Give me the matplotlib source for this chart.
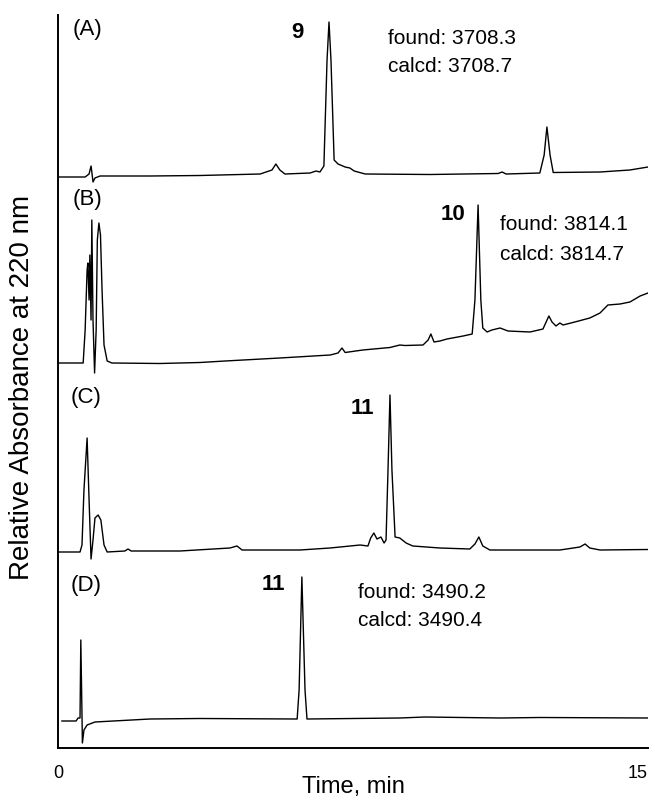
import numpy as np
import matplotlib
matplotlib.use("Agg")
import matplotlib.pyplot as plt

plt.rcParams['font.family'] = ['Liberation Sans', 'DejaVu Sans']

# traces: time (min) and height above each panel's baseline
time_a = [0.00, 0.69, 0.79, 0.84, 0.86, 0.89, 0.94, 1.07, 2.34, 3.61, 5.14, 5.44, 5.54, 5.64, 5.77,
          6.41, 6.56, 6.66, 6.76, 6.84, 6.89, 6.94, 7.02, 7.12, 7.30, 7.42, 7.53, 7.81, 9.46, 11.19,
          11.29, 11.39, 12.25, 12.36, 12.43, 12.51, 12.59, 13.78, 14.54, 15.00]
sig_a = [0, 0, 3, 11, 5, -5, -1, 1, 1, 1.5, 3, 7, 13, 7, 3,
         4, 6, 5, 11, 117, 155, 117, 17, 13, 10, 9, 6, 3, 2.5, 3.5,
         5, 3, 4, 22, 50, 22, 4.5, 5, 7, 10]

time_b = [0.00, 0.56, 0.64, 0.69, 0.74, 0.76, 0.79, 0.81, 0.84, 0.86, 0.89, 0.93, 0.97, 1.00,
          1.04, 1.08, 1.12, 1.17, 1.25, 1.37, 2.59, 3.61, 4.25, 5.64, 6.92, 7.12, 7.22, 7.30,
          7.75, 8.44, 8.69, 8.82, 9.28, 9.41, 9.48, 9.56, 9.71, 9.89, 10.30, 10.53, 10.60, 10.68,
          10.75, 10.80, 10.91, 11.03, 11.24, 11.44, 12.00, 12.33, 12.41, 12.48, 12.56, 12.66,
          12.76, 12.84, 13.14, 13.52, 13.78, 13.98, 14.29, 14.54, 14.80, 15.00]
sig_b = [0, 0, 0, 33, 93, 100, 63, 108, 43, 143, 43, -10, 33, 123,
         140, 128, 73, 18, 2, 0, -0.5, 0.5, 2, 5, 8, 10, 15, 10.5,
         13, 15.5, 18, 17.5, 18, 23, 29, 21, 22, 24, 27, 29, 63, 158,
         63, 35, 31, 33, 35, 32, 31, 34, 41, 47, 41, 37,
         40, 38, 41, 45, 50, 58, 59, 61, 67, 70]

time_c = [0.00, 0.56, 0.61, 0.66, 0.74, 0.79, 0.84, 0.89, 0.94, 1.02, 1.09, 1.17, 1.25, 1.70,
          1.78, 1.86, 3.10, 4.37, 4.55, 4.68, 6.15, 6.92, 7.68, 7.88, 7.95, 8.03, 8.11, 8.21,
          8.29, 8.34, 8.39, 8.44, 8.49, 8.57, 8.69, 8.85, 9.02, 9.71, 10.47, 10.60, 10.70, 10.80,
          10.98, 12.76, 13.27, 13.40, 13.52, 13.78, 15.00]
sig_c = [0, 0, 7, 62, 114, 52, -7, 12, 34, 37, 32, 7, 0, 1,
         3, 1, 1, 4, 6, 2, 2, 4, 7, 6, 14, 19, 13, 15,
         9, 12, 82, 157, 82, 15, 14, 9, 6, 4, 3, 8, 15, 6,
         2, 2, 5, 8, 4, 2, 2.5]

time_d = [0.10, 0.46, 0.51, 0.56, 0.58, 0.61, 0.62, 0.66, 0.74, 0.94, 2.34, 3.61, 6.08, 6.13,
          6.20, 6.28, 6.33, 8.69, 9.33, 11.24, 12.25, 15.00]
sig_d = [0, 0, 3, 3, 81, 6, -22, -9, -4, -1, 2, 2.5, 2, 31,
         144, 31, 2, 3, 4, 3, 3.5, 3]

panels = ["(A)", "(B)", "(C)", "(D)"]
offsets = [571, 385, 196, 27]
x_ticks = [0, 15]

fig = plt.figure(figsize=(6.55, 8), dpi=100)
ax = fig.add_axes([58 / 655, 52 / 800, 590 / 655, 733 / 800])

traces = [(time_a, sig_a), (time_b, sig_b), (time_c, sig_c), (time_d, sig_d)]
for (t, s), off in zip(traces, offsets):
    ax.plot(t, np.array(s) + off, color="black", lw=1.0)

ax.set_xlim(0, 15)
ax.set_ylim(0, 733)
ax.set_xticks(x_ticks)
ax.set_xticklabels([str(v) for v in x_ticks], fontsize=13)
ax.get_xticklabels()[-1].set_horizontalalignment("right")
ax.tick_params(axis="x", length=0, pad=12)
ax.set_yticks([])
for side in ["top", "right"]:
    ax.spines[side].set_visible(False)
for side in ["left", "bottom"]:
    ax.spines[side].set_linewidth(1.4)

# panel letters
label_pos = [(0.76, 718), (0.74, 549), (0.71, 351), (0.71, 163)]
for name, (x, y) in zip(panels, label_pos):
    ax.text(x, y, name, fontsize=16, ha="center", va="center")

# compound numbers
ax.text(6.08, 715, "9", fontsize=16, fontweight="bold", ha="center", va="center")
ax.text(10.04, 533, "10", fontsize=16, fontweight="bold", ha="center", va="center")
ax.text(7.75, 340, "11", fontsize=16, fontweight="bold", ha="center", va="center")
ax.text(5.47, 163, "11", fontsize=16, fontweight="bold", ha="center", va="center")

# mass results
ax.text(8.39, 709, "found: 3708.3", fontsize=15, va="center")
ax.text(8.39, 681, "calcd: 3708.7", fontsize=15, va="center")
ax.text(11.24, 523, "found: 3814.1", fontsize=15, va="center")
ax.text(11.24, 494, "calcd: 3814.7", fontsize=15, va="center")
ax.text(7.63, 156, "found: 3490.2", fontsize=15, va="center")
ax.text(7.63, 128, "calcd: 3490.4", fontsize=15, va="center")

fig.text(353 / 655, 1 - 787 / 800, "Time, min", fontsize=17, ha="center", va="center")
fig.text(22 / 655, 1 - 387 / 800, "Relative Absorbance at 220 nm", fontsize=20,
         rotation=90, ha="center", va="center")

fig.savefig("out.png", dpi=100)
